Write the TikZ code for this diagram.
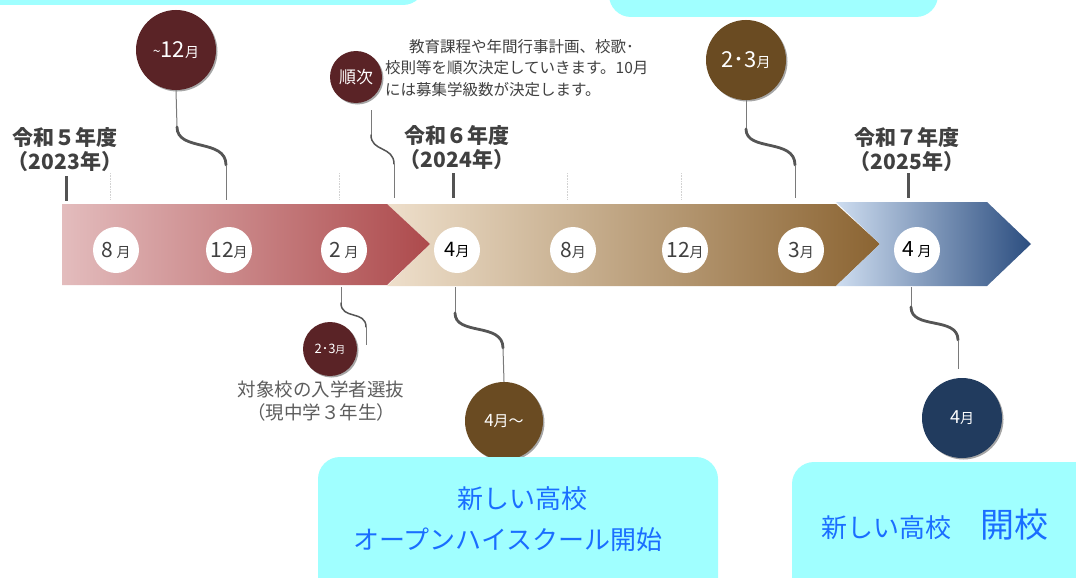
\documentclass[tikz,border=0pt]{standalone}
\usepackage{fontspec}
\setmainfont{Noto Sans CJK JP}
\usetikzlibrary{shadows}
\definecolor{cyanbox}{HTML}{A0FFFF}
\definecolor{bluetext}{HTML}{1A6EFF}
\definecolor{maroon}{HTML}{5A2326}
\definecolor{brownc}{HTML}{6A4B22}
\definecolor{navy}{HTML}{213B5E}
\definecolor{darktext}{HTML}{404040}
\definecolor{conn}{HTML}{555555}
\definecolor{connthin}{HTML}{7A7A7A}
\newcommand{\mlab}[3]{{\fontsize{#1}{#1}\selectfont #2}{\fontsize{14}{14}\selectfont #3}}
\begin{document}
\begin{tikzpicture}[x=1pt,y=-1pt,
  darkcirc/.style={circle, inner sep=0pt, text=white,
    drop shadow={shadow xshift=1.5pt, shadow yshift=-1.5pt, opacity=0.35, fill=black}},
  moncirc/.style={circle, fill=white, minimum size=46pt, inner sep=0pt, text=darktext},
  thinc/.style={draw=connthin, line width=1pt},
  thickc/.style={draw=conn, line width=2.8pt, line cap=round},
  medc/.style={draw=conn, line width=1.5pt, line cap=round},
  gridl/.style={draw=gray!35, line width=0.6pt, densely dotted},
  yearlab/.style={align=center, text=darktext, font=\bfseries\fontsize{21}{24}\selectfont},
  yeartick/.style={draw=darktext!90, line width=3pt},
  boxc/.style={fill=cyanbox, rounded corners=22pt},
  btext/.style={text=bluetext, inner sep=0pt}
]
\useasboundingbox (0,0) rectangle (1076,578);
\fill[white] (0,0) rectangle (1076,578);

% top cyan boxes (cut off)
\fill[boxc] (-40,-60) rectangle (425,5);
\fill[boxc] (609,-60) rectangle (938,17);

% grid lines
\foreach \gx in {110,339,567,681}
  \draw[gridl] (\gx,173) -- (\gx,200);

% timeline segments
\shade[left color={rgb,255:red,238;green,223;blue,203}, middle color={rgb,255:red,204;green,176;blue,142}, right color={rgb,255:red,139;green,100;blue,50}]
  (387,204) -- (836,204) -- (880,244) -- (836,286) -- (387,286) -- (430,244) -- cycle;
\shade[left color={rgb,255:red,206;green,221;blue,240}, middle color={rgb,255:red,166;green,188;blue,216}, right color={rgb,255:red,44;green,78;blue,128}]
  (836,202) -- (987,202) -- (1031,244) -- (987,286) -- (836,286) -- (880,244) -- cycle;
\shade[left color={rgb,255:red,227;green,188;blue,189}, middle color={rgb,255:red,212;green,155;blue,156}, right color={rgb,255:red,173;green,74;blue,76}]
  (62,204) -- (387,204) -- (430,244) -- (387,285) -- (62,285) -- cycle;

% month circles
\node[moncirc] (m1) at (116,250) {\mlab{21}{8\,}{月}};
\node[moncirc] (m2) at (229,250) {\mlab{21}{12}{月}};
\node[moncirc] (m3) at (344,250) {\mlab{21}{2\,}{月}};
\node[moncirc, text=black] (m4) at (457,250) {\mlab{20}{4}{月}};
\node[moncirc] (m5) at (573,250) {\mlab{21}{8}{月}};
\node[moncirc] (m6) at (685,250) {\mlab{21}{12}{月}};
\node[moncirc] (m7) at (801,250) {\mlab{21}{3}{月}};
\node[moncirc, text=black] (m8) at (917,250) {\mlab{21}{4\,}{月}};

% year labels and ticks
\node[yearlab] (y5) at (65,150) {令和５年度\\（2023年）};
\node[yearlab] (y6) at (457,148) {令和６年度\\（2024年）};
\node[yearlab] (y7) at (907,150) {令和７年度\\（2025年）};
\coordinate (t5a) at (66,176); \coordinate (t5b) at (66,201);
\coordinate (t6a) at (453,173); \coordinate (t6b) at (453,198);
\coordinate (t7a) at (908,173); \coordinate (t7b) at (908,198);
\draw[yeartick] (t5a) -- (t5b);
\draw[yeartick] (t6a) -- (t6b);
\draw[yeartick] (t7a) -- (t7b);

% dark circles
\node[darkcirc, fill=maroon, minimum size=80pt] (c12) at (176,50) {{\fontsize{14}{14}\selectfont \raisebox{1pt}{\textasciitilde}}\mlab{22}{12}{月}};
\node[darkcirc, fill=maroon, minimum size=52pt] (cj) at (356,77) {\fontsize{17}{17}\selectfont 順次};
\node[darkcirc, fill=brownc, minimum size=80pt] (c23) at (746,60) {\mlab{22}{2･3}{月}};
\node[darkcirc, fill=maroon, minimum size=54pt] (s23) at (330,349) {{\fontsize{13}{13}\selectfont 2･3}{\fontsize{10}{10}\selectfont 月}};
\node[darkcirc, fill=brownc, minimum size=78pt] (b4) at (504,421) {{\fontsize{17}{17}\selectfont 4}{\fontsize{15}{15}\selectfont 月～}};
\node[darkcirc, fill=navy, minimum size=80pt] (n4) at (962,418) {\mlab{18}{4}{月}};

% connectors
% ~12月
\coordinate (k1b) at (177,127); \coordinate (k1c) at (226,165); \coordinate (k1d) at (226,200);
\draw[thinc] (c12.south) -- (k1b);
\draw[thickc] (k1b) .. controls (177,152) and (226,138) .. (k1c);
\draw[thinc] (k1c) -- (k1d);
% 順次
\coordinate (k2a) at (371,110); \coordinate (k2b) at (371,135); \coordinate (k2c) at (394,164); \coordinate (k2d) at (394,198);
\draw[thinc] (k2a) -- (k2b);
\draw[medc] (k2b) .. controls (371,152) and (394,146) .. (k2c);
\draw[thinc] (k2c) -- (k2d);
% 2・3月 top
\coordinate (k3b) at (746,129); \coordinate (k3c) at (795,165); \coordinate (k3d) at (795,198);
\draw[thinc] (c23.south) -- (k3b);
\draw[thickc] (k3b) .. controls (746,152) and (795,138) .. (k3c);
\draw[thinc] (k3c) -- (k3d);
% 2月 below
\coordinate (k4a) at (341,287); \coordinate (k4b) at (341,303); \coordinate (k4c) at (366,327); \coordinate (k4d) at (366,345);
\draw[thinc] (k4a) -- (k4b);
\draw[medc] (k4b) .. controls (341,320) and (366,310) .. (k4c);
\draw[thinc] (k4c) -- (k4d);
% 4月 below
\coordinate (k5a) at (455,287); \coordinate (k5b) at (455,313); \coordinate (k5c) at (503,348);
\draw[thinc] (k5a) -- (k5b);
\draw[thickc] (k5b) .. controls (455,336) and (503,322) .. (k5c);
\draw[thinc] (k5c) -- (b4.north);
% 2025 4月 below
\coordinate (k6a) at (911,287); \coordinate (k6b) at (911,307); \coordinate (k6c) at (958,340); \coordinate (k6d) at (958,369);
\draw[thinc] (k6a) -- (k6b);
\draw[thickc] (k6b) .. controls (911,330) and (958,316) .. (k6c);
\draw[thinc] (k6c) -- (k6d);

% paragraph text
\node[anchor=north west, align=left, inner sep=0pt, text=darktext, font=\fontsize{15.5}{21.5}\selectfont] (para) at (385,39)
  {\hspace{1.55em}教育課程や年間行事計画、校歌･\\校則等を順次決定していきます。10月\\には募集学級数が決定します。};

% selection text
\node[align=center, inner sep=0pt, text=darktext!85, font=\fontsize{18.5}{23}\selectfont] (sel) at (321,401)
  {対象校の入学者選抜\\（現中学３年生）};

% bottom boxes
\fill[boxc] (318,457) rectangle (718,620);
\fill[boxc] (792,462) rectangle (1110,620);
\node[btext, font=\fontsize{26}{26}\selectfont] (ob1) at (522,499) {新しい高校};
\node[btext, font=\fontsize{26}{26}\selectfont] (ob2) at (508,540) {オープンハイスクール開始};
\node[btext, font=\fontsize{26}{26}\selectfont] (nb1) at (886,528) {新しい高校};
\node[btext, font=\fontsize{34}{34}\selectfont] (nb2) at (1014,525) {開校};
\end{tikzpicture}
\end{document}
